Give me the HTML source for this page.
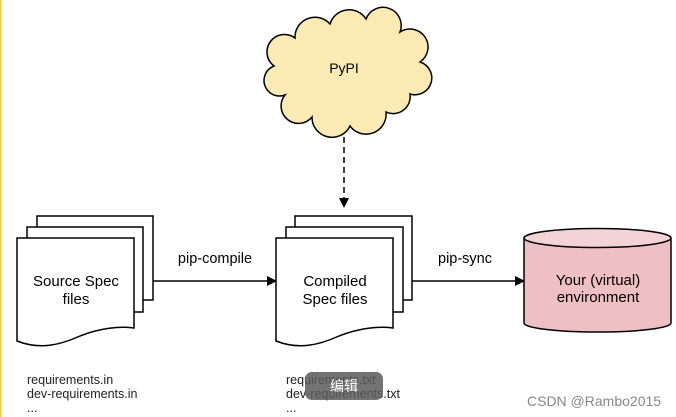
<!DOCTYPE html>
<html><head><meta charset="utf-8"><style>
html,body{margin:0;padding:0;background:#fff;}
svg{display:block;}
text{font-family:"Liberation Sans",Arial,sans-serif;}
</style></head><body>
<svg width="676" height="417" viewBox="0 0 676 417" xmlns="http://www.w3.org/2000/svg">
<rect x="0" y="0" width="1.5" height="417" fill="#f7c948"/>
<defs>
<marker id="ah" markerWidth="10" markerHeight="10" refX="9" refY="5" orient="auto" markerUnits="userSpaceOnUse">
<path d="M0,0 L10,5 L0,10 Z" fill="#000"/></marker>
</defs>
<path d="M285,95 A13,13 0 0 1 274,66 A16,16 0 0 1 295,38 A20,20 0 0 1 330,24 A20,20 0 0 1 366,19 A18,18 0 0 1 400,32 A17,17 0 0 1 420,62 A14,14 0 0 1 410,94 A17,17 0 0 1 386,112 A20,20 0 0 1 350,126 A20,20 0 0 1 312,117 A15,15 0 0 1 285,95 Z" fill="#fbeab4" stroke="#000" stroke-width="1.5"/>
<text x="344" y="73" font-size="14" text-anchor="middle">PyPI</text>
<line x1="344" y1="137" x2="344" y2="207" stroke="#000" stroke-width="1.5" stroke-dasharray="6,4" marker-end="url(#ah)"/>
<g fill="#fff" stroke="#000" stroke-width="1.5">
<rect x="37" y="216" width="116" height="84"/>
<rect x="27" y="227" width="116" height="85"/>
<path d="M17,238 H134 V328 C120,326 100,328 80,336 C60,345 40,350 17,341 Z"/>
<rect x="295" y="216" width="117" height="84"/>
<rect x="286" y="227" width="117" height="85"/>
<path d="M276,238 H393 V328 C379,326 359,328 339,336 C319,345 299,350 276,341 Z"/>
</g>
<text x="76" y="286" font-size="15" text-anchor="middle">Source Spec</text>
<text x="76" y="304" font-size="15" text-anchor="middle">files</text>
<text x="335" y="286" font-size="15" text-anchor="middle">Compiled</text>
<text x="335" y="304" font-size="15" text-anchor="middle">Spec files</text>
<line x1="153" y1="281" x2="276" y2="281" stroke="#000" stroke-width="1.5" marker-end="url(#ah)"/>
<text x="215" y="263" font-size="14.5" text-anchor="middle">pip-compile</text>
<line x1="412" y1="281" x2="524" y2="281" stroke="#000" stroke-width="1.5" marker-end="url(#ah)"/>
<text x="465" y="263" font-size="14.5" text-anchor="middle">pip-sync</text>
<path d="M524,238 V323 A73,9 0 0 0 671,323 V238" fill="#eebfc3" stroke="#000" stroke-width="1.5"/>
<ellipse cx="597.5" cy="238" rx="73.5" ry="9.5" fill="#f3d3d6" stroke="#000" stroke-width="1.5"/>
<text x="598" y="285" font-size="15" text-anchor="middle">Your (virtual)</text>
<text x="598" y="302" font-size="15" text-anchor="middle">environment</text>
<g font-size="12.5" fill="#222">
<text x="27" y="384">requirements.in</text>
<text x="27" y="398">dev-requirements.in</text>
<text x="27" y="412">...</text>
<text x="286" y="384">requirements.txt</text>
<text x="286" y="398">dev-requirements.txt</text>
<text x="286" y="412">...</text>
</g>
<rect x="305" y="372" width="78" height="28" rx="7" fill="#5a5a5a" opacity="0.85"/>
<text x="344" y="391" font-size="14" fill="#fff" text-anchor="middle" style="font-family:'Liberation Sans','Noto Sans CJK SC',sans-serif">编辑</text>
<text x="527" y="406" font-size="14" fill="#888">CSDN @Rambo2015</text>
</svg>
</body></html>
